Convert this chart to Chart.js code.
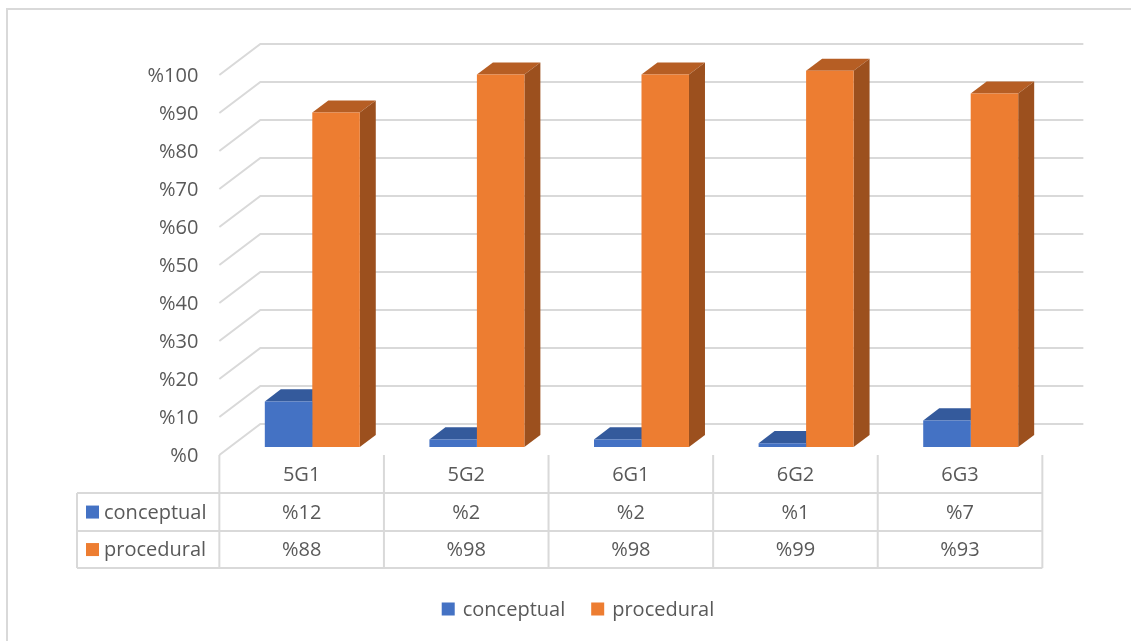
<!DOCTYPE html>
<html>
<head>
<meta charset="utf-8">
<script src="https://cdn.jsdelivr.net/npm/chart.js@4"></script>
<style>
  html, body { margin: 0; padding: 0; background: #ffffff; }
  canvas { display: block; }
</style>
</head>
<body>
<canvas id="chart" width="1131" height="641"></canvas>
<script>
// Groups and their shares of each knowledge type
const categories = ['5G1', '5G2', '6G1', '6G2', '6G3'];
const conceptual = [12, 2, 2, 1, 7];
const procedural = [88, 98, 98, 99, 93];
const tickValues = [0, 10, 20, 30, 40, 50, 60, 70, 80, 90, 100];
const seriesNames = ['conceptual', 'procedural'];

const FONT = '20px "Open Sans", "Noto Sans", sans-serif';
const TEXT = '#595959';
const LINE = '#d9d9d9';

// Oblique depth of the floor: full offset from front edge to back wall
const DEPTH_DX = 41, DEPTH_DY = 31;
// Bars occupy this depth slice (0 = front edge, 1 = back wall)
const BAR_Z0 = 0.26, BAR_Z1 = 0.65;

const faceColors = [
  { front: '#4472c4', top: '#345a9c', side: '#2b4d88' },
  { front: '#ed7d31', top: '#b65e24', side: '#9c501e' }
];

// Chart area is the bars' front plane; shift a point to another depth
function atDepth(x, y, z) {
  return [x + (z - BAR_Z0) * DEPTH_DX, y - (z - BAR_Z0) * DEPTH_DY];
}

function poly(ctx, pts, color) {
  ctx.beginPath();
  ctx.moveTo(pts[0][0], pts[0][1]);
  for (let i = 1; i < pts.length; i++) ctx.lineTo(pts[i][0], pts[i][1]);
  ctx.closePath();
  ctx.fillStyle = color;
  ctx.fill();
}

const scene3d = {
  id: 'scene3d',
  beforeDatasetsDraw(chart) {
    const ctx = chart.ctx;
    const area = chart.chartArea;
    const y = chart.scales.y;
    ctx.save();

    // outer frame
    ctx.strokeStyle = LINE;
    ctx.lineWidth = 2;
    ctx.strokeRect(7, 9, 1140, 660);

    // side wall and back wall gridlines with tick labels
    ctx.lineWidth = 2;
    ctx.font = FONT;
    ctx.fillStyle = TEXT;
    ctx.textAlign = 'right';
    ctx.textBaseline = 'middle';
    tickValues.forEach(v => {
      const py = y.getPixelForValue(v);
      const f = atDepth(area.left, py, 0);
      const b = atDepth(area.left, py, 1);
      const r = atDepth(area.right, py, 1);
      ctx.beginPath();
      ctx.moveTo(f[0], f[1]);
      ctx.lineTo(b[0], b[1]);
      ctx.lineTo(r[0], r[1]);
      ctx.strokeStyle = LINE;
      ctx.stroke();
      ctx.fillText('%' + v, f[0] - 21, f[1] + 1);
    });

    // top and side faces of every bar, behind the front faces
    const dx = (BAR_Z1 - BAR_Z0) * DEPTH_DX;
    const dy = (BAR_Z1 - BAR_Z0) * DEPTH_DY;
    chart.data.datasets.forEach((ds, di) => {
      const meta = chart.getDatasetMeta(di);
      meta.data.forEach(bar => {
        const p = bar.getProps(['x', 'y', 'base', 'width'], true);
        const l = p.x - p.width / 2, r = p.x + p.width / 2;
        poly(ctx, [[l, p.y], [r, p.y], [r + dx, p.y - dy], [l + dx, p.y - dy]], faceColors[di].top);
        poly(ctx, [[r, p.y], [r + dx, p.y - dy], [r + dx, p.base - dy], [r, p.base]], faceColors[di].side);
      });
    });
    ctx.restore();
  },
  afterDraw(chart) {
    const ctx = chart.ctx;
    const area = chart.chartArea;
    const y = chart.scales.y;
    const n = categories.length;
    const catW = (area.right - area.left) / n;
    const frontY = atDepth(area.left, y.getPixelForValue(0), 0)[1];
    const shift = atDepth(area.left, 0, 0)[0] - area.left;
    const colX = i => area.left + i * catW + shift;

    const rowTop = frontY + 38, rowMid = frontY + 76, rowBot = frontY + 113;
    const labelLeft = 77;

    ctx.save();
    ctx.strokeStyle = LINE;
    ctx.lineWidth = 2;
    ctx.beginPath();
    for (let i = 0; i <= n; i++) {
      ctx.moveTo(colX(i), frontY);
      ctx.lineTo(colX(i), rowBot);
    }
    [rowTop, rowMid, rowBot].forEach(ry => {
      ctx.moveTo(labelLeft, ry);
      ctx.lineTo(colX(n), ry);
    });
    ctx.moveTo(labelLeft, rowTop);
    ctx.lineTo(labelLeft, rowBot);
    ctx.stroke();

    ctx.font = FONT;
    ctx.fillStyle = TEXT;
    ctx.textAlign = 'center';
    ctx.textBaseline = 'middle';
    categories.forEach((c, i) => {
      const cx = colX(i) + catW / 2;
      ctx.fillText(c, cx, (frontY + rowTop) / 2 + 1);
      ctx.fillText('%' + chart.data.datasets[0].data[i], cx, (rowTop + rowMid) / 2 + 1);
      ctx.fillText('%' + chart.data.datasets[1].data[i], cx, (rowMid + rowBot) / 2 + 1);
    });

    // series keys in the table
    ctx.textAlign = 'left';
    [[rowTop, rowMid], [rowMid, rowBot]].forEach((rr, di) => {
      const cy = (rr[0] + rr[1]) / 2;
      ctx.fillStyle = faceColors[di].front;
      ctx.fillRect(86, cy - 6.5, 13, 13);
      ctx.fillStyle = TEXT;
      ctx.fillText(chart.data.datasets[di].label, 104, cy + 1);
    });

    // legend below the table
    const legendY = 609;
    const items = chart.data.datasets.map((ds, di) => ({ label: ds.label, color: faceColors[di].front }));
    const gap = 26, sw = 13, sp = 8;
    const widths = items.map(it => sw + sp + ctx.measureText(it.label).width);
    const total = widths.reduce((a, b) => a + b, 0) + gap * (items.length - 1);
    let lx = 578 - total / 2;
    items.forEach((it, i) => {
      ctx.fillStyle = it.color;
      ctx.fillRect(lx, legendY - 6.5, sw, sw);
      ctx.fillStyle = TEXT;
      ctx.fillText(it.label, lx + sw + sp, legendY + 1);
      lx += widths[i] + gap;
    });
    ctx.restore();
  }
};

new Chart(document.getElementById('chart'), {
  type: 'bar',
  data: {
    labels: categories,
    datasets: [
      { label: seriesNames[0], data: conceptual, backgroundColor: faceColors[0].front, borderWidth: 0 },
      { label: seriesNames[1], data: procedural, backgroundColor: faceColors[1].front, borderWidth: 0 }
    ]
  },
  options: {
    responsive: false,
    devicePixelRatio: 1,
    animation: false,
    layout: { padding: { left: 230, right: 78, top: 67, bottom: 194 } },
    datasets: { bar: { categoryPercentage: 0.577, barPercentage: 1 } },
    scales: {
      x: { display: false, offset: true },
      y: { display: false, min: 0, max: 100 }
    },
    plugins: {
      legend: { display: false },
      tooltip: { enabled: false }
    }
  },
  plugins: [scene3d]
});
</script>
</body>
</html>
